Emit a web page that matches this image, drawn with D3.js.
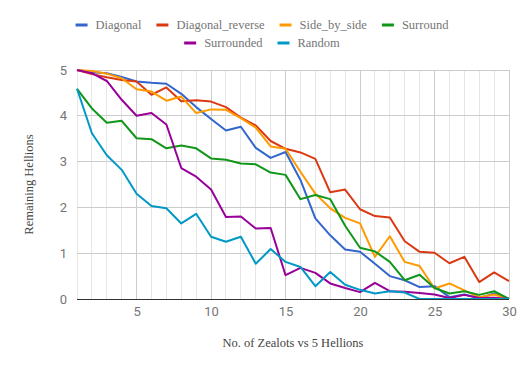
<!DOCTYPE html>
<html>
<head>
<meta charset="utf-8">
<script src="https://cdn.jsdelivr.net/npm/d3@7"></script>
<style>
  body { margin: 0; background: #fff; }
  svg { display: block; }
</style>
</head>
<body>
<div id="container"></div>
<script>
/* DATA */
const zealots = d3.range(1, 31);
const diagonal = [5, 4.95, 4.93, 4.85, 4.75, 4.72, 4.7, 4.48, 4.19, 3.93, 3.68, 3.76, 3.3, 3.08, 3.21, 2.6, 1.76, 1.39, 1.08, 1.03, 0.77, 0.5, 0.41, 0.26, 0.28, 0.04, 0.1, 0.02, 0.12, 0];
const diagonalReverse = [5, 4.91, 4.84, 4.78, 4.75, 4.46, 4.62, 4.32, 4.34, 4.31, 4.19, 3.96, 3.79, 3.45, 3.28, 3.2, 3.06, 2.33, 2.39, 1.96, 1.81, 1.78, 1.26, 1.03, 1.01, 0.78, 0.92, 0.37, 0.58, 0.39];
const sideBySide = [5, 4.98, 4.92, 4.82, 4.58, 4.53, 4.33, 4.42, 4.06, 4.14, 4.13, 3.95, 3.74, 3.33, 3.28, 2.78, 2.3, 1.98, 1.77, 1.65, 0.92, 1.37, 0.81, 0.72, 0.23, 0.34, 0.19, 0.04, 0.1, 0];
const surround = [4.59, 4.16, 3.85, 3.89, 3.51, 3.49, 3.29, 3.35, 3.29, 3.07, 3.04, 2.96, 2.94, 2.76, 2.71, 2.18, 2.27, 2.18, 1.6, 1.12, 1.04, 0.81, 0.41, 0.53, 0.24, 0.12, 0.17, 0.09, 0.17, 0];
const surrounded = [5, 4.93, 4.76, 4.35, 4.0, 4.06, 3.81, 2.86, 2.67, 2.39, 1.79, 1.8, 1.54, 1.55, 0.52, 0.68, 0.57, 0.34, 0.24, 0.15, 0.35, 0.17, 0.16, 0.13, 0.1, 0.02, 0.09, 0.02, 0.03, 0];
const random = [4.59, 3.62, 3.14, 2.82, 2.3, 2.03, 1.98, 1.65, 1.86, 1.36, 1.25, 1.36, 0.77, 1.09, 0.81, 0.7, 0.28, 0.59, 0.31, 0.2, 0.12, 0.17, 0.14, 0, 0, 0, 0, 0, 0, 0];

const seriesNames = ["Diagonal", "Diagonal_reverse", "Side_by_side", "Surround", "Surrounded", "Random"];
const seriesValues = [diagonal, diagonalReverse, sideBySide, surround, surrounded, random];
const colors = ["#3366cc", "#dc3912", "#ff9900", "#109618", "#990099", "#0099c6"];
const xTicks = [5, 10, 15, 20, 25, 30];
const yTicks = [0, 1, 2, 3, 4, 5];

/* LAYOUT */
const W = 528, H = 371;
const margin = { top: 70, right: 19, bottom: 72, left: 77 };
const width = W - margin.left - margin.right;
const height = H - margin.top - margin.bottom;
const serif = "Georgia, 'Liberation Serif', serif";

const svg = d3.select('#container')
  .append('svg')
  .attr("width", W)
  .attr("height", H);

const chart = svg.append('g')
  .attr("transform", `translate(${margin.left}, ${margin.top})`);

const xScale = d3.scaleLinear().domain([1, 30]).range([0, width]);
const yScale = d3.scaleLinear().domain([0, 5]).range([height, 0]);

// minor vertical gridlines
chart.append("g")
  .selectAll("line")
  .data(zealots.filter(d => d % 5 !== 0))
  .join("line")
  .attr("x1", d => xScale(d)).attr("x2", d => xScale(d))
  .attr("y1", 0).attr("y2", height)
  .attr("stroke", "#e6e6e6").attr("stroke-width", 1)
  .attr("shape-rendering", "crispEdges");

// major vertical gridlines
chart.append("g")
  .selectAll("line")
  .data(xTicks)
  .join("line")
  .attr("x1", d => xScale(d)).attr("x2", d => xScale(d))
  .attr("y1", 0).attr("y2", height)
  .attr("stroke", "#cccccc").attr("stroke-width", 1)
  .attr("shape-rendering", "crispEdges");

// horizontal gridlines
chart.append("g")
  .selectAll("line")
  .data(yTicks.filter(d => d > 0))
  .join("line")
  .attr("x1", 0).attr("x2", width)
  .attr("y1", d => yScale(d)).attr("y2", d => yScale(d))
  .attr("stroke", "#cccccc").attr("stroke-width", 1)
  .attr("shape-rendering", "crispEdges");

// Y axis labels
const yAxis = chart.append("g")
  .call(d3.axisLeft(yScale).tickValues(yTicks).tickSize(0).tickPadding(10).tickFormat(d3.format("d")));
yAxis.select(".domain").remove();
yAxis.selectAll("text")
  .attr("font-family", "Roboto, sans-serif")
  .attr("font-size", 13)
  .attr("fill", "#757575");

// X axis labels
const xAxis = chart.append("g")
  .attr("transform", `translate(0,${height})`)
  .call(d3.axisBottom(xScale).tickValues(xTicks).tickSize(0).tickPadding(8).tickFormat(d3.format("d")));
xAxis.select(".domain").remove();
xAxis.selectAll("text")
  .attr("font-family", "Roboto, sans-serif")
  .attr("font-size", 13)
  .attr("fill", "#757575");

// Lines
const line = d3.line()
  .x((d, i) => xScale(zealots[i]))
  .y(d => yScale(d));

chart.append("g")
  .selectAll("path")
  .data(seriesValues)
  .join("path")
  .attr("d", d => line(d))
  .attr("fill", "none")
  .attr("stroke", (d, i) => colors[i])
  .attr("stroke-width", 2)
  .attr("stroke-linejoin", "round");

// baseline
chart.append("line")
  .attr("x1", 0).attr("x2", width)
  .attr("y1", yScale(0)).attr("y2", yScale(0))
  .attr("stroke", "#333333").attr("stroke-width", 1)
  .attr("shape-rendering", "crispEdges");

// Axis titles
svg.append("text")
  .attr("x", margin.left + width / 2)
  .attr("y", 347)
  .attr("text-anchor", "middle")
  .attr("font-family", serif)
  .attr("font-size", 12.5)
  .attr("fill", "#444")
  .text("No. of Zealots vs 5 Hellions");

svg.append("text")
  .attr("transform", `translate(33, ${margin.top + height / 2}) rotate(-90)`)
  .attr("text-anchor", "middle")
  .attr("font-family", serif)
  .attr("font-size", 12.5)
  .attr("fill", "#444")
  .text("Remaining Hellions");

// Legend
const legendRows = [[0, 1, 2, 3], [4, 5]];
const legendY = [25, 43];
legendRows.forEach((row, r) => {
  const g = svg.append("g");
  let x = 0;
  row.forEach(i => {
    const item = g.append("g").attr("transform", `translate(${x},0)`);
    item.append("line")
      .attr("x1", 0).attr("x2", 12)
      .attr("y1", 0).attr("y2", 0)
      .attr("stroke", colors[i]).attr("stroke-width", 3);
    const t = item.append("text")
      .attr("x", 20).attr("y", 4)
      .attr("font-family", serif)
      .attr("font-size", 12.5)
      .attr("fill", "#757575")
      .text(seriesNames[i]);
    x += 20 + t.node().getComputedTextLength() + 15;
  });
  x -= 15;
  g.attr("transform", `translate(${(W - x) / 2 - 2}, ${legendY[r]})`);
});
</script>
</body>
</html>
